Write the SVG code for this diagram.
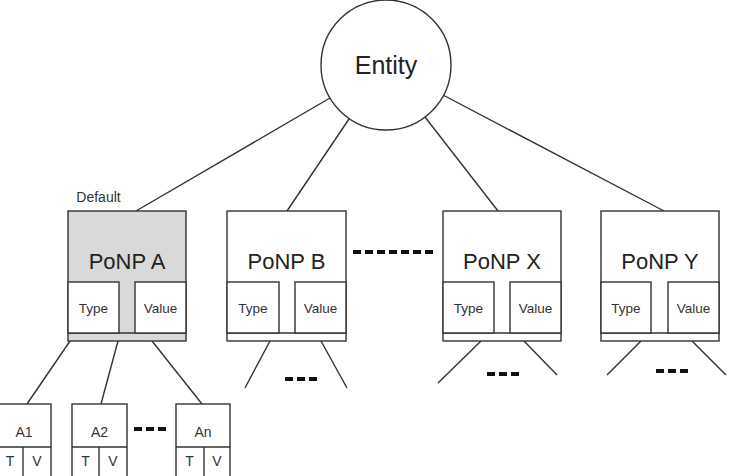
<svg xmlns="http://www.w3.org/2000/svg" width="729" height="476" viewBox="0 0 729 476">
<style>
.s{fill:none;stroke:#333;stroke-width:1.4}
.b{fill:#fff;stroke:#333;stroke-width:1.4}
.g{fill:#d9d9d9;stroke:#333;stroke-width:1.4}
.d{fill:none;stroke:#111;stroke-width:4;stroke-dasharray:8 4}
text{font-family:"Liberation Sans",Arial,sans-serif;fill:#222;text-anchor:middle}
.big{font-size:22px}
.sm{font-size:13.5px;fill:#333}
.tv{font-size:14px;fill:#333}
</style>
<rect width="729" height="476" fill="#fff"/>
<g id="connectors">
<line class="s" x1="330" y1="98" x2="136" y2="211"/>
<line class="s" x1="349" y1="119" x2="287" y2="211"/>
<line class="s" x1="425" y1="117" x2="498" y2="211"/>
<line class="s" x1="443" y1="95" x2="664" y2="211"/>
<line class="s" x1="70" y1="341" x2="27" y2="404"/>
<line class="s" x1="118" y1="341" x2="101" y2="404"/>
<line class="s" x1="152" y1="341" x2="202" y2="404"/>
<line class="s" x1="270" y1="341" x2="245" y2="388"/>
<line class="s" x1="321" y1="341" x2="347" y2="388"/>
<line class="s" x1="481" y1="341" x2="438" y2="383"/>
<line class="s" x1="524" y1="341" x2="557" y2="375"/>
<line class="s" x1="641" y1="341" x2="607" y2="375"/>
<line class="s" x1="692" y1="341" x2="726" y2="375"/>
<line class="d" x1="353" y1="252" x2="433" y2="252"/>
<line class="d" x1="134" y1="429" x2="166" y2="429"/>
<line class="d" x1="285" y1="379" x2="317" y2="379"/>
<line class="d" x1="487" y1="374" x2="519" y2="374"/>
<line class="d" x1="656" y1="371" x2="688" y2="371"/>
</g>
<g id="entity">
<circle class="b" cx="386" cy="65" r="65"/>
<text x="386" y="74" style="font-size:25px">Entity</text>
</g>
<g id="ponp-a">
<text x="98.5" y="202" class="sm" style="font-size:14px">Default</text>
<rect class="g" x="68" y="211" width="118" height="130"/>
<line class="s" x1="68" y1="333" x2="186" y2="333"/>
<rect class="b" x="68" y="282" width="51" height="51"/>
<rect class="b" x="135" y="282" width="51" height="51"/>
<text x="127" y="269" class="big">PoNP A</text>
<text x="93.5" y="313" class="sm">Type</text>
<text x="160.5" y="313" class="sm">Value</text>
</g>
<g id="ponp-b">
<rect class="b" x="227" y="211" width="119" height="130"/>
<line class="s" x1="227" y1="333" x2="346" y2="333"/>
<rect class="b" x="227" y="282" width="52" height="51"/>
<rect class="b" x="295" y="282" width="51" height="51"/>
<text x="286.5" y="269" class="big">PoNP B</text>
<text x="253" y="313" class="sm">Type</text>
<text x="320.5" y="313" class="sm">Value</text>
</g>
<g id="ponp-x">
<rect class="b" x="443" y="211" width="118" height="130"/>
<line class="s" x1="443" y1="333" x2="561" y2="333"/>
<rect class="b" x="443" y="282" width="51" height="51"/>
<rect class="b" x="510" y="282" width="51" height="51"/>
<text x="502" y="269" class="big">PoNP X</text>
<text x="468.5" y="313" class="sm">Type</text>
<text x="535.5" y="313" class="sm">Value</text>
</g>
<g id="ponp-y">
<rect class="b" x="601" y="211" width="118" height="130"/>
<line class="s" x1="601" y1="333" x2="719" y2="333"/>
<rect class="b" x="601" y="282" width="50" height="51"/>
<rect class="b" x="668" y="282" width="51" height="51"/>
<text x="660" y="269" class="big">PoNP Y</text>
<text x="626" y="313" class="sm">Type</text>
<text x="693.5" y="313" class="sm">Value</text>
</g>
<g id="a1">
<rect class="b" x="-1" y="404" width="52" height="73"/>
<line class="s" x1="-1" y1="447" x2="51" y2="447"/>
<line class="s" x1="23" y1="447" x2="23" y2="477"/>
<text x="24" y="437" class="tv">A1</text>
<text x="10" y="466" class="tv">T</text>
<text x="37" y="466" class="tv">V</text>
</g>
<g id="a2">
<rect class="b" x="72" y="404" width="55" height="73"/>
<line class="s" x1="72" y1="447" x2="127" y2="447"/>
<line class="s" x1="99" y1="447" x2="99" y2="477"/>
<text x="99.5" y="437" class="tv">A2</text>
<text x="85.5" y="466" class="tv">T</text>
<text x="113" y="466" class="tv">V</text>
</g>
<g id="an">
<rect class="b" x="176" y="404" width="54" height="73"/>
<line class="s" x1="176" y1="447" x2="230" y2="447"/>
<line class="s" x1="204" y1="447" x2="204" y2="477"/>
<text x="203" y="437" class="tv">An</text>
<text x="189.5" y="466" class="tv">T</text>
<text x="217" y="466" class="tv">V</text>
</g>
</svg>
